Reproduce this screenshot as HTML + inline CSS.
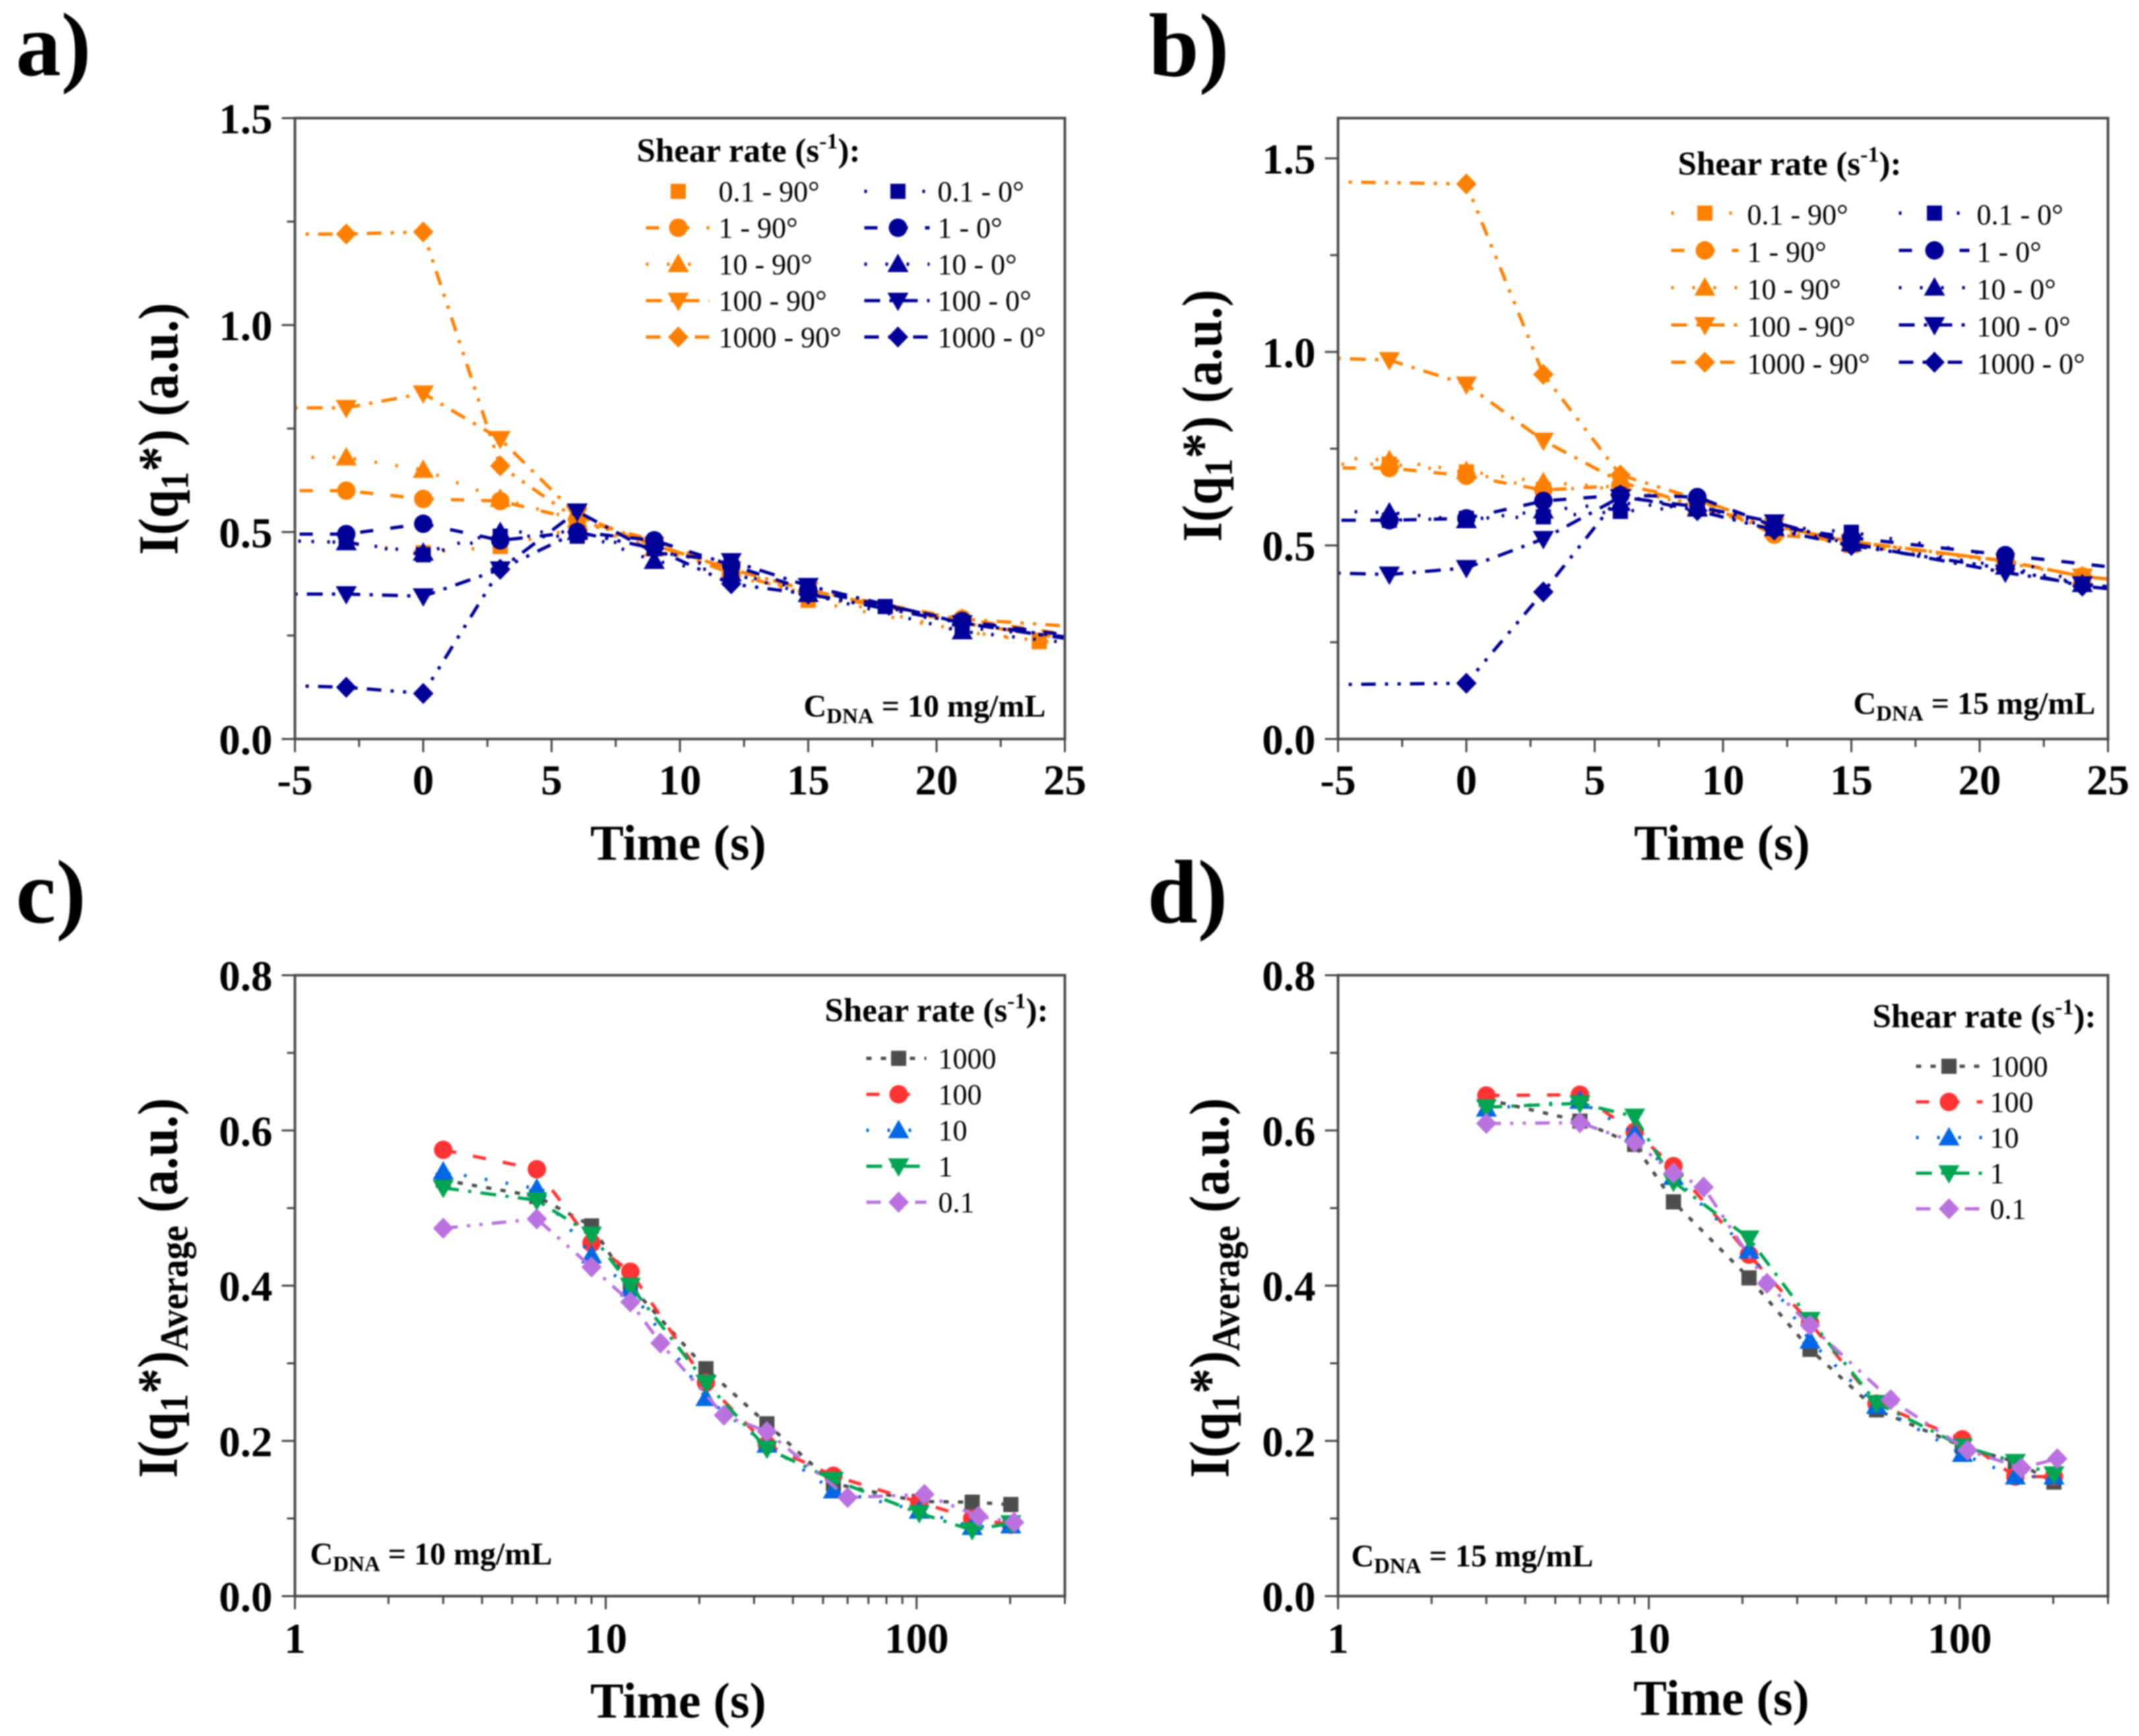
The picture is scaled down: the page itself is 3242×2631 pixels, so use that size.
<!DOCTYPE html>
<html lang="en">
<head>
<meta charset="utf-8">
<title>Shear rate intensity charts</title>
<style>
html,body{margin:0;padding:0;background:#fff;width:3242px;height:2631px;overflow:hidden}
svg{display:block;filter:blur(1px)}
text{font-family:"Liberation Serif",serif;fill:#000}
.b{font-weight:bold}
.letter{font-weight:bold;font-size:137px}
.axt{font-weight:bold;font-size:76px}
.tick{font-weight:bold;font-size:65px}
.leg{font-size:44px}
.legt{font-weight:bold;font-size:51px}
.note{font-weight:bold;font-size:48px}
</style>
</head>
<body>
<svg id="figure" xmlns="http://www.w3.org/2000/svg" width="3242" height="2631" viewBox="0 0 3242 2631">
<rect x="0" y="0" width="3242" height="2631" fill="#fff"/>
<defs id="clip-defs"></defs>

<g id="panel-a">
<text class="letter" x="24" y="114">a)</text>
<text class="axt" transform="translate(269,650) rotate(-90) scale(1.02,1.13)" text-anchor="middle">I(q<tspan font-size="53" dy="14">1</tspan><tspan dy="-14">*) (a.u.)</tspan></text>
<text class="axt" x="1028" y="1303" text-anchor="middle">Time (s)</text>
<text class="legt" x="965" y="245">Shear rate (s<tspan font-size="34" dy="-20">-1</tspan><tspan dy="20">):</tspan></text>
<text class="note" x="1218" y="1086">C<tspan font-size="33" dy="10">DNA</tspan><tspan dy="-10"> = 10 mg/mL</tspan></text>
</g>

<g id="panel-b">
<text class="letter" x="1741" y="115">b)</text>
<text class="axt" transform="translate(1851,630) rotate(-90) scale(1.02,1.13)" text-anchor="middle">I(q<tspan font-size="53" dy="14">1</tspan><tspan dy="-14">*) (a.u.)</tspan></text>
<text class="axt" x="2610" y="1303" text-anchor="middle">Time (s)</text>
<text class="legt" x="2543" y="265">Shear rate (s<tspan font-size="34" dy="-20">-1</tspan><tspan dy="20">):</tspan></text>
<text class="note" x="2809" y="1082">C<tspan font-size="33" dy="10">DNA</tspan><tspan dy="-10"> = 15 mg/mL</tspan></text>
</g>

<g id="panel-c">
<text class="letter" x="24" y="1398">c)</text>
<text class="axt" transform="translate(268,1952) rotate(-90) scale(1.03,1.13)" text-anchor="middle">I(q<tspan font-size="53" dy="14">1</tspan><tspan dy="-14">*)</tspan><tspan font-size="53" dy="14">Average</tspan><tspan dy="-14"> (a.u.)</tspan></text>
<text class="axt" x="1028" y="2603" text-anchor="middle">Time (s)</text>
<text class="legt" x="1250" y="1548">Shear rate (s<tspan font-size="34" dy="-20">-1</tspan><tspan dy="20">):</tspan></text>
<text class="note" x="470" y="2371">C<tspan font-size="33" dy="10">DNA</tspan><tspan dy="-10"> = 10 mg/mL</tspan></text>
</g>

<g id="panel-d">
<text class="letter" x="1739" y="1398">d)</text>
<text class="axt" transform="translate(1862,1952) rotate(-90) scale(1.03,1.13)" text-anchor="middle">I(q<tspan font-size="53" dy="14">1</tspan><tspan dy="-14">*)</tspan><tspan font-size="53" dy="14">Average</tspan><tspan dy="-14"> (a.u.)</tspan></text>
<text class="axt" x="2609" y="2599" text-anchor="middle">Time (s)</text>
<text class="legt" x="2838" y="1557">Shear rate (s<tspan font-size="34" dy="-20">-1</tspan><tspan dy="20">):</tspan></text>
<text class="note" x="2048" y="2374">C<tspan font-size="33" dy="10">DNA</tspan><tspan dy="-10"> = 15 mg/mL</tspan></text>
</g>
</svg>

<script>
/* ---------- tick labels ---------- */
const timeTicksLinear = [-5, 0, 5, 10, 15, 20, 25];
const timeMinorLinear = [-2.5, 2.5, 7.5, 12.5, 17.5, 22.5];
const timeTicksLog = [1, 10, 100];
const timeMinorLog = [2, 3, 4, 5, 6, 7, 8, 9, 20, 30, 40, 50, 60, 70, 80, 90, 200, 300];
const intensityTicksAB = ['0.0', '0.5', '1.0', '1.5'];
const intensityMinorAB = [0.25, 0.75, 1.25];
const intensityTicksCD = ['0.0', '0.2', '0.4', '0.6', '0.8'];
const intensityMinorCD = [0.1, 0.3, 0.5, 0.7];

/* ---------- panel a data ---------- */
const aTimes = [-6, -3, 0, 3, 6, 9, 12, 15, 21, 27];
const aTimesOrange01 = [-6, -3, 0, 3, 6, 9, 12, 15, 21, 24, 27];
const aTimesBlue01 = [-6, -3, 0, 3, 6, 9, 12, 15, 18, 21, 27];
const aOrange01 = [0.48, 0.475, 0.45, 0.465, 0.51, 0.47, 0.40, 0.335, 0.26, 0.235, 0.22];
const aOrange1 = [0.60, 0.60, 0.58, 0.575, 0.53, 0.48, 0.41, 0.36, 0.29, 0.235];
const aOrange10 = [0.68, 0.68, 0.65, 0.58, 0.53, 0.46, 0.41, 0.35, 0.26, 0.215];
const aOrange100 = [0.80, 0.80, 0.835, 0.725, 0.54, 0.47, 0.41, 0.36, 0.28, 0.225];
const aOrange1000 = [1.22, 1.22, 1.225, 0.66, 0.53, 0.47, 0.40, 0.35, 0.29, 0.265];
const aBlue01 = [0.48, 0.475, 0.445, 0.49, 0.49, 0.46, 0.40, 0.36, 0.32, 0.27, 0.235];
const aBlue1 = [0.495, 0.495, 0.52, 0.48, 0.50, 0.48, 0.42, 0.36, 0.285, 0.235];
const aBlue10 = [0.48, 0.475, 0.45, 0.50, 0.50, 0.43, 0.40, 0.35, 0.26, 0.22];
const aBlue100 = [0.35, 0.35, 0.345, 0.41, 0.55, 0.45, 0.43, 0.37, 0.28, 0.225];
const aBlue1000 = [0.13, 0.125, 0.11, 0.41, 0.50, 0.46, 0.375, 0.35, 0.28, 0.23];

/* ---------- panel b data ---------- */
const bTimes = [-6, -3, 0, 3, 6, 9, 12, 15, 21, 24, 27];
const bTimes1000 = [-6, 0, 3, 6, 9, 12, 15, 21, 24, 27];
const bTimesBlue1 = [-6, -3, 0, 3, 6, 9, 12, 15, 21, 27];
const bOrange01 = [0.71, 0.71, 0.69, 0.645, 0.65, 0.60, 0.54, 0.50, 0.46, 0.42, 0.40];
const bOrange1 = [0.70, 0.70, 0.68, 0.643, 0.655, 0.62, 0.528, 0.51, 0.46, 0.42, 0.40];
const bOrange10 = [0.73, 0.72, 0.692, 0.663, 0.65, 0.60, 0.54, 0.51, 0.455, 0.42, 0.40];
const bOrange100 = [0.985, 0.979, 0.916, 0.771, 0.665, 0.60, 0.55, 0.51, 0.46, 0.42, 0.40];
const bOrange1000 = [1.44, 1.434, 0.942, 0.682, 0.62, 0.55, 0.51, 0.46, 0.42, 0.40];
const bBlue01 = [0.565, 0.565, 0.57, 0.574, 0.588, 0.60, 0.55, 0.534, 0.47, 0.40, 0.38];
const bBlue1 = [0.565, 0.565, 0.57, 0.615, 0.63, 0.625, 0.55, 0.52, 0.475, 0.43];
const bBlue10 = [0.59, 0.585, 0.565, 0.59, 0.61, 0.595, 0.545, 0.505, 0.445, 0.40, 0.38];
const bBlue100 = [0.43, 0.425, 0.442, 0.517, 0.625, 0.60, 0.56, 0.505, 0.43, 0.40, 0.38];
const bBlue1000 = [0.14, 0.144, 0.38, 0.63, 0.59, 0.54, 0.50, 0.44, 0.395, 0.375];

/* ---------- panel c data ---------- */
const avgTimes = [3, 6, 9, 12, 21, 33, 54, 102, 151, 201];
const avgTimesViolet = [3, 6, 9, 12, 15, 24, 33, 60, 106, 158, 206];
const c1000 = [0.536, 0.515, 0.477, 0.40, 0.293, 0.222, 0.145, 0.122, 0.121, 0.118];
const c100 = [0.575, 0.55, 0.455, 0.418, 0.275, 0.195, 0.155, 0.121, 0.10, 0.092];
const c10 = [0.547, 0.525, 0.439, 0.396, 0.255, 0.195, 0.136, 0.11, 0.089, 0.091];
const c1 = [0.526, 0.51, 0.466, 0.40, 0.275, 0.19, 0.15, 0.107, 0.085, 0.094];
const c01 = [0.474, 0.486, 0.424, 0.379, 0.326, 0.233, 0.212, 0.127, 0.131, 0.103, 0.095];

/* ---------- panel d data ---------- */
const d1000 = [0.64, 0.612, 0.582, 0.508, 0.41, 0.318, 0.24, 0.193, 0.173, 0.147];
const d100 = [0.645, 0.646, 0.598, 0.554, 0.44, 0.352, 0.248, 0.202, 0.154, 0.154];
const d10 = [0.628, 0.638, 0.596, 0.54, 0.445, 0.329, 0.245, 0.183, 0.154, 0.154];
const d1 = [0.63, 0.635, 0.618, 0.534, 0.461, 0.356, 0.249, 0.193, 0.173, 0.157];
const d01 = [0.609, 0.61, 0.585, 0.545, 0.527, 0.403, 0.349, 0.253, 0.188, 0.165, 0.177];

/* ---------- series styles ---------- */
const ORANGE = '#ff8000', NAVY = '#000099';
const GREY = '#4d4d4d', RED = '#ff3333', BLUE = '#0068e6', GREEN = '#00a552', VIOLET = '#b972e0';
const DASH = '20 26', DOT = '4 28', DASHDOT = '24 14 5 14', DASHDOTDOT = '22 14 5 14 5 14', SPARSE = '4 40', FINE = '8 14';

const seriesA = [
  {label: '0.1 - 90°', t: aTimesOrange01, v: aOrange01, color: ORANGE, shape: 'square', dash: SPARSE, legendLine: false},
  {label: '1 - 90°', t: aTimes, v: aOrange1, color: ORANGE, shape: 'circle', dash: DASH},
  {label: '10 - 90°', t: aTimes, v: aOrange10, color: ORANGE, shape: 'up', dash: DOT},
  {label: '100 - 90°', t: aTimes, v: aOrange100, color: ORANGE, shape: 'down', dash: DASHDOT},
  {label: '1000 - 90°', t: aTimes, v: aOrange1000, color: ORANGE, shape: 'diamond', dash: DASHDOTDOT},
  {label: '0.1 - 0°', t: aTimesBlue01, v: aBlue01, color: NAVY, shape: 'square', dash: SPARSE},
  {label: '1 - 0°', t: aTimes, v: aBlue1, color: NAVY, shape: 'circle', dash: DASH},
  {label: '10 - 0°', t: aTimes, v: aBlue10, color: NAVY, shape: 'up', dash: DOT},
  {label: '100 - 0°', t: aTimes, v: aBlue100, color: NAVY, shape: 'down', dash: DASHDOT},
  {label: '1000 - 0°', t: aTimes, v: aBlue1000, color: NAVY, shape: 'diamond', dash: DASHDOTDOT}
];
const seriesB = [
  {label: '0.1 - 90°', t: bTimes, v: bOrange01, color: ORANGE, shape: 'square', dash: SPARSE},
  {label: '1 - 90°', t: bTimes, v: bOrange1, color: ORANGE, shape: 'circle', dash: DASH},
  {label: '10 - 90°', t: bTimes, v: bOrange10, color: ORANGE, shape: 'up', dash: DOT},
  {label: '100 - 90°', t: bTimes, v: bOrange100, color: ORANGE, shape: 'down', dash: DASHDOT},
  {label: '1000 - 90°', t: bTimes1000, v: bOrange1000, color: ORANGE, shape: 'diamond', dash: DASHDOTDOT},
  {label: '0.1 - 0°', t: bTimes, v: bBlue01, color: NAVY, shape: 'square', dash: SPARSE},
  {label: '1 - 0°', t: bTimesBlue1, v: bBlue1, color: NAVY, shape: 'circle', dash: DASH},
  {label: '10 - 0°', t: bTimes, v: bBlue10, color: NAVY, shape: 'up', dash: DOT},
  {label: '100 - 0°', t: bTimes, v: bBlue100, color: NAVY, shape: 'down', dash: DASHDOT},
  {label: '1000 - 0°', t: bTimes1000, v: bBlue1000, color: NAVY, shape: 'diamond', dash: DASHDOTDOT}
];
const seriesC = [
  {label: '1000', t: avgTimes, v: c1000, color: GREY, shape: 'square', dash: FINE},
  {label: '100', t: avgTimes, v: c100, color: RED, shape: 'circle', dash: DASH},
  {label: '10', t: avgTimes, v: c10, color: BLUE, shape: 'up', dash: DOT},
  {label: '1', t: avgTimes, v: c1, color: GREEN, shape: 'down', dash: DASHDOT},
  {label: '0.1', t: avgTimesViolet, v: c01, color: VIOLET, shape: 'diamond', dash: DASHDOTDOT}
];
const seriesD = [
  {label: '1000', t: avgTimes, v: d1000, color: GREY, shape: 'square', dash: FINE},
  {label: '100', t: avgTimes, v: d100, color: RED, shape: 'circle', dash: DASH},
  {label: '10', t: avgTimes, v: d10, color: BLUE, shape: 'up', dash: DOT},
  {label: '1', t: avgTimes, v: d1, color: GREEN, shape: 'down', dash: DASHDOT},
  {label: '0.1', t: avgTimesViolet, v: d01, color: VIOLET, shape: 'diamond', dash: DASHDOTDOT}
];

/* ---------- panels ---------- */
const panels = [
  {id: 'a', left: 447, right: 1614, top: 179, bottom: 1120, log: false, xMin: -5, xMax: 25, yMax: 1.5,
   xTicks: timeTicksLinear, xMinor: timeMinorLinear, yTicks: intensityTicksAB, yMinor: intensityMinorAB,
   series: seriesA, xLabelY: 1204,
   legend: {cols: [{mark: 1028, x1: 979, x2: 1075, text: 1089}, {mark: 1361, x1: 1310, x2: 1409, text: 1421}], y0: 290, dy: 55.2, base: 15}},
  {id: 'b', left: 2028, right: 3195, top: 179, bottom: 1120, log: false, xMin: -5, xMax: 25, yMax: 1.604,
   xTicks: timeTicksLinear, xMinor: timeMinorLinear, yTicks: intensityTicksAB, yMinor: intensityMinorAB,
   series: seriesB, xLabelY: 1204,
   legend: {cols: [{mark: 2584, x1: 2533, x2: 2635, text: 2648}, {mark: 2932, x1: 2878, x2: 2985, text: 2996}], y0: 323, dy: 56.5, base: 17}},
  {id: 'c', left: 447, right: 1614, top: 1478, bottom: 2419, log: true, xMin: 1, xMax: 300, yMax: 0.8,
   xTicks: timeTicksLog, xMinor: timeMinorLog, yTicks: intensityTicksCD, yMinor: intensityMinorCD,
   series: seriesC, xLabelY: 2505,
   legend: {cols: [{mark: 1362, x1: 1313, x2: 1404, text: 1422}], y0: 1604, dy: 54.5, base: 15}},
  {id: 'd', left: 2028, right: 3195, top: 1478, bottom: 2419, log: true, xMin: 1, xMax: 300, yMax: 0.8,
   xTicks: timeTicksLog, xMinor: timeMinorLog, yTicks: intensityTicksCD, yMinor: intensityMinorCD,
   series: seriesD, xLabelY: 2505,
   legend: {cols: [{mark: 2954, x1: 2904, x2: 3005, text: 3016}], y0: 1616, dy: 54, base: 15}}
];

const NS = 'http://www.w3.org/2000/svg';
function xPos(p, v) {
  if (p.log) return p.left + (Math.log10(v) - Math.log10(p.xMin)) / (Math.log10(p.xMax) - Math.log10(p.xMin)) * (p.right - p.left);
  return p.left + (v - p.xMin) / (p.xMax - p.xMin) * (p.right - p.left);
}
function yPos(p, v) {
  return p.bottom - v / p.yMax * (p.bottom - p.top);
}
function slug(s) {
  return s.replace(/[^0-9a-z]+/gi, '-').replace(/-+$/, '');
}
function drawTick(g, x1, y1, x2, y2, name) {
  const el = document.createElementNS(NS, 'line');
  el.setAttribute('x1', x1);
  el.setAttribute('y1', y1);
  el.setAttribute('x2', x2);
  el.setAttribute('y2', y2);
  el.setAttribute('stroke', '#444');
  el.setAttribute('stroke-width', 3);
  
  
  g.appendChild(el);
}
function drawLabel(g, x, y, str, anchor, cls, name) {
  const el = document.createElementNS(NS, 'text');
  el.setAttribute('x', x);
  el.setAttribute('y', y);
  el.setAttribute('text-anchor', anchor);
  el.setAttribute('class', cls);
  el.textContent = str;
  
  
  g.appendChild(el);
}
function drawMarker(g, shape, x, y, color, name) {
  let el;
  if (shape === 'circle') {
    el = document.createElementNS(NS, 'circle');
    el.setAttribute('cx', x);
    el.setAttribute('cy', y);
    el.setAttribute('r', 14);
  } else if (shape === 'square') {
    el = document.createElementNS(NS, 'rect');
    el.setAttribute('x', x - 11.5);
    el.setAttribute('y', y - 11.5);
    el.setAttribute('width', 23);
    el.setAttribute('height', 23);
  } else {
    el = document.createElementNS(NS, 'polygon');
    let pts;
    if (shape === 'up') pts = [[x, y - 16], [x + 16, y + 12], [x - 16, y + 12]];
    else if (shape === 'down') pts = [[x, y + 16], [x + 16, y - 12], [x - 16, y - 12]];
    else pts = [[x, y - 16], [x + 15.5, y], [x, y + 16], [x - 15.5, y]];
    el.setAttribute('points', pts.map(function (q) { return q.join(','); }).join(' '));
  }
  el.setAttribute('fill', color);
  
  
  g.appendChild(el);
}

panels.forEach(function (p) {
  const g = document.getElementById('panel-' + p.id);

  const clip = document.createElementNS(NS, 'clipPath');
  clip.setAttribute('id', 'clip-' + p.id);
  const clipRect = document.createElementNS(NS, 'rect');
  clipRect.setAttribute('x', p.left);
  clipRect.setAttribute('y', p.top);
  clipRect.setAttribute('width', p.right - p.left);
  clipRect.setAttribute('height', p.bottom - p.top);
  clip.appendChild(clipRect);
  document.getElementById('clip-defs').appendChild(clip);

  /* series lines and markers */
  p.series.forEach(function (s) {
    const sg = document.createElementNS(NS, 'g');
    
    
    const pts = s.t.map(function (t, i) { return xPos(p, t).toFixed(1) + ',' + yPos(p, s.v[i]).toFixed(1); });
    const line = document.createElementNS(NS, 'polyline');
    line.setAttribute('points', pts.join(' '));
    line.setAttribute('fill', 'none');
    line.setAttribute('stroke', s.color);
    line.setAttribute('stroke-width', 5);
    line.setAttribute('stroke-dasharray', s.dash);
    line.setAttribute('clip-path', 'url(#clip-' + p.id + ')');
    
    
    sg.appendChild(line);
    s.t.forEach(function (t, i) {
      if (t < p.xMin || t > p.xMax) return;
      drawMarker(sg, s.shape, xPos(p, t), yPos(p, s.v[i]), s.color, 'point-' + slug(s.label) + '-t' + t);
    });
    g.appendChild(sg);
  });

  /* frame */
  const frame = document.createElementNS(NS, 'rect');
  frame.setAttribute('x', p.left);
  frame.setAttribute('y', p.top);
  frame.setAttribute('width', p.right - p.left);
  frame.setAttribute('height', p.bottom - p.top);
  frame.setAttribute('fill', 'none');
  frame.setAttribute('stroke', '#4d4d4d');
  frame.setAttribute('stroke-width', 4);
  
  
  g.appendChild(frame);

  /* x axis */
  p.xTicks.forEach(function (v) {
    const x = xPos(p, v);
    drawTick(g, x, p.bottom, x, p.bottom + 20, 'x-tick-' + v);
    drawLabel(g, x, p.xLabelY, String(v), 'middle', 'tick', 'x-tick-label-' + v);
  });
  p.xMinor.forEach(function (v) {
    const x = xPos(p, v);
    drawTick(g, x, p.bottom, x, p.bottom + 12, 'x-minor-tick-' + v);
  });

  /* y axis */
  p.yTicks.forEach(function (lab) {
    const y = yPos(p, parseFloat(lab));
    drawTick(g, p.left - 20, y, p.left, y, 'y-tick-' + lab);
    drawLabel(g, p.left - 34, y + 23, lab, 'end', 'tick', 'y-tick-label-' + lab);
  });
  p.yMinor.forEach(function (v) {
    const y = yPos(p, v);
    drawTick(g, p.left - 12, y, p.left, y, 'y-minor-tick-' + v);
  });

  /* legend */
  const perCol = p.series.length / p.legend.cols.length;
  p.series.forEach(function (s, i) {
    const col = p.legend.cols[Math.floor(i / perCol)];
    const y = p.legend.y0 + (i % perCol) * p.legend.dy;
    const eg = document.createElementNS(NS, 'g');
    
    
    if (s.legendLine !== false) {
      const ln = document.createElementNS(NS, 'line');
      ln.setAttribute('x1', col.x1);
      ln.setAttribute('y1', y);
      ln.setAttribute('x2', col.x2);
      ln.setAttribute('y2', y);
      ln.setAttribute('stroke', s.color);
      ln.setAttribute('stroke-width', 5);
      ln.setAttribute('stroke-dasharray', s.dash);
      
      
      eg.appendChild(ln);
    }
    drawMarker(eg, s.shape, col.mark, y, s.color, 'legend-marker');
    drawLabel(eg, col.text, y + p.legend.base, s.label, 'start', 'leg', 'legend-label');
    g.appendChild(eg);
  });
});
</script>
</body>
</html>
